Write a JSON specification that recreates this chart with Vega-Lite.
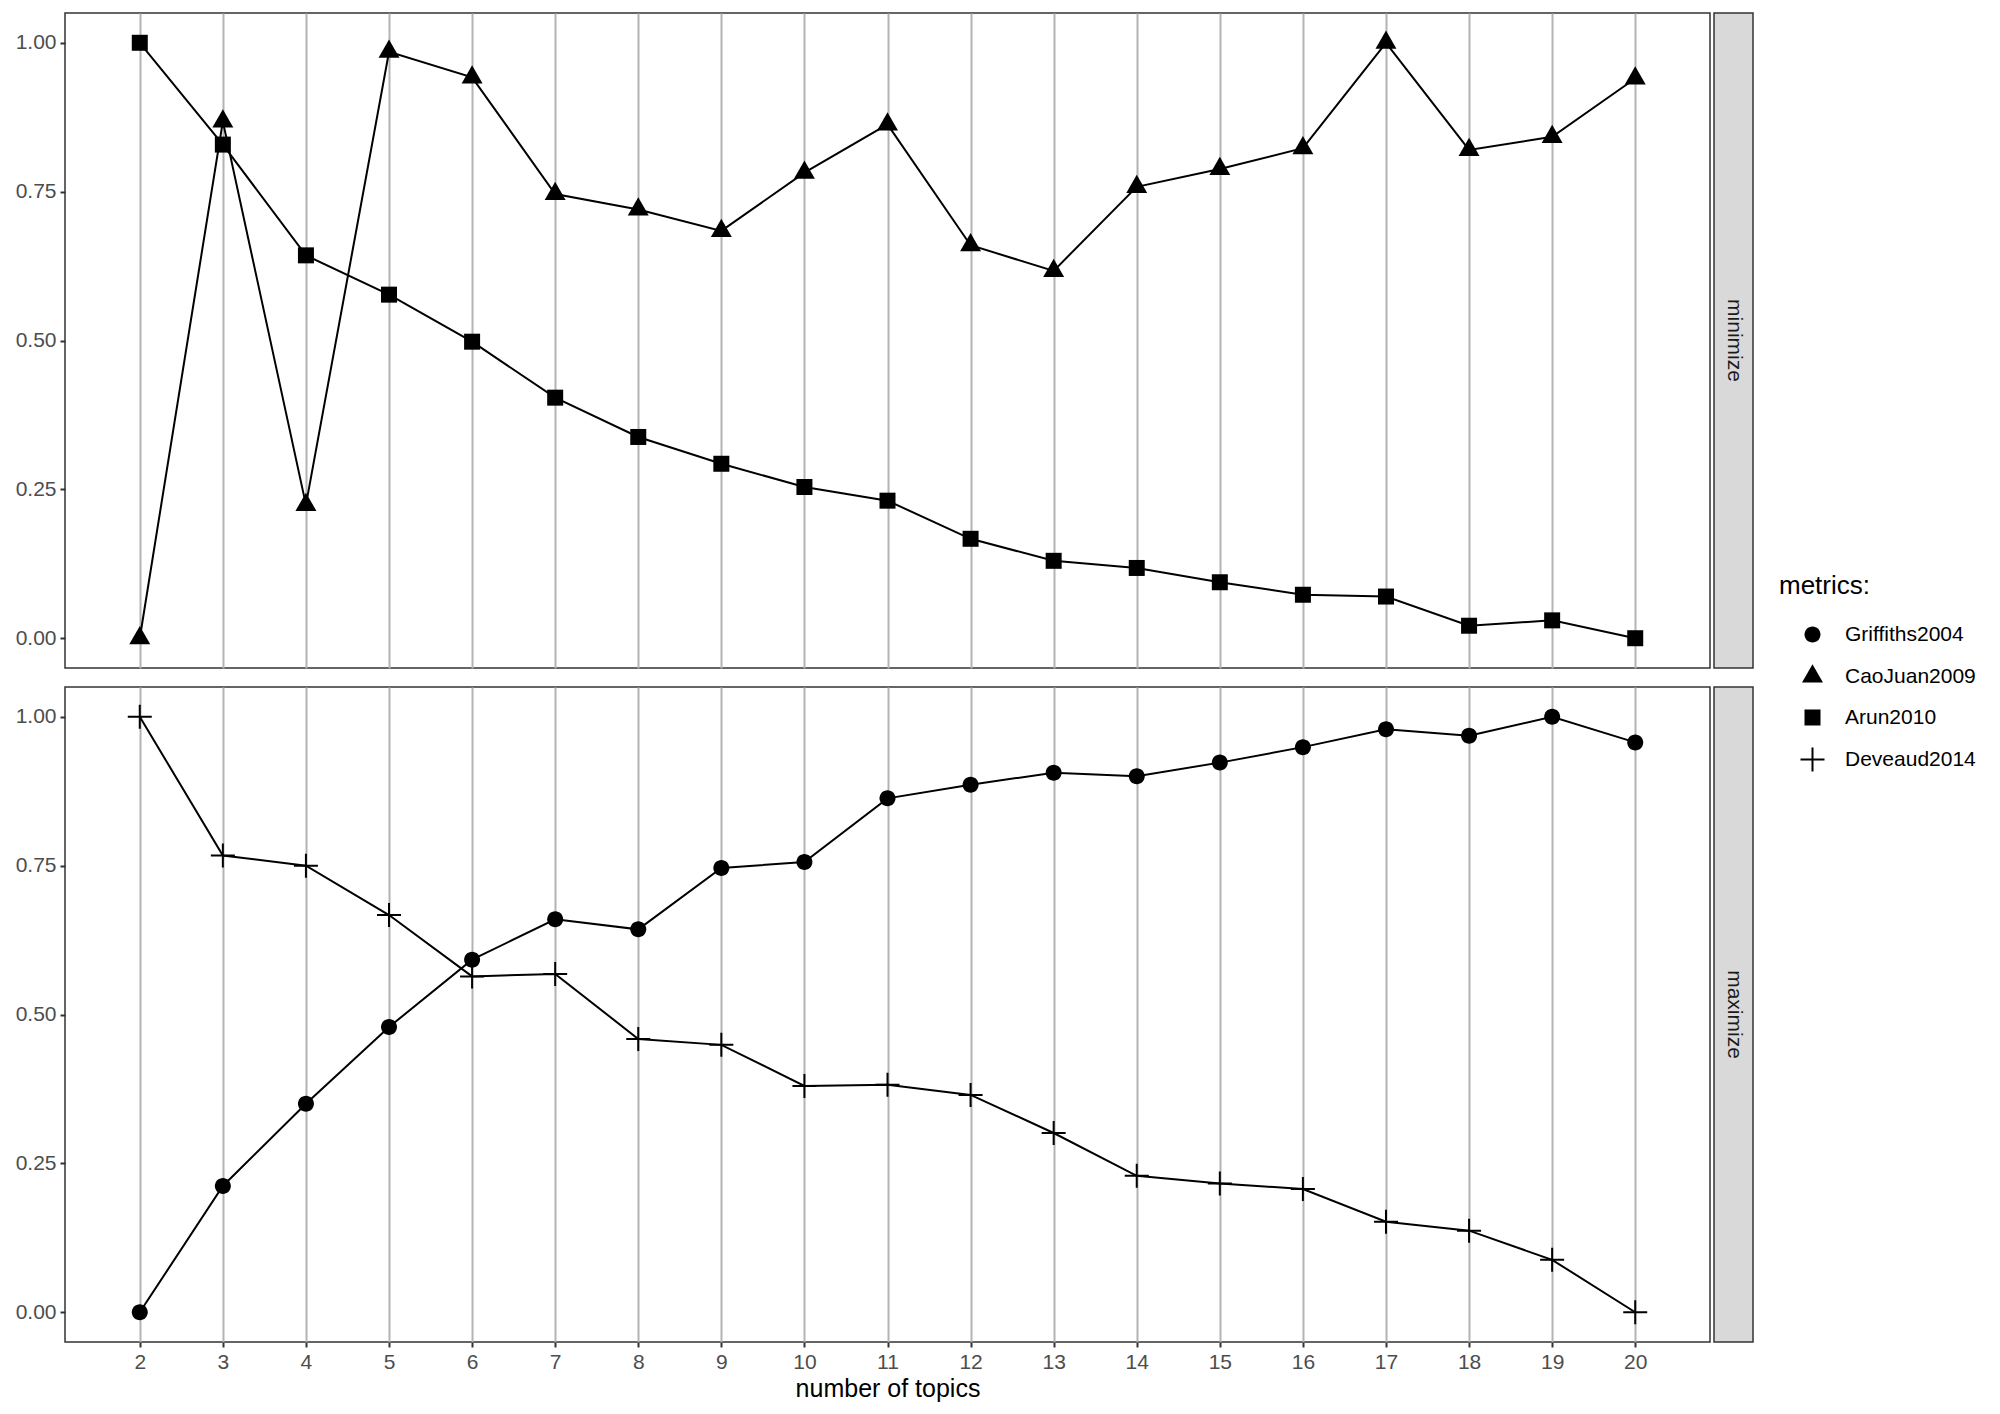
{
  "$schema": "https://vega.github.io/schema/vega-lite/v6.json",
  "background": "white",
  "padding": {"left": 14, "top": 12, "right": 0, "bottom": 0},
  "config": {
    "font": "Liberation Sans",
    "view": {"stroke": "#333333", "strokeWidth": 1.5},
    "axis": {
      "labelFont": "Liberation Sans",
      "labelFontSize": 21,
      "labelColor": "#4d4d4d",
      "tickColor": "#333333",
      "tickSize": 5,
      "tickWidth": 2,
      "labelPadding": 4,
      "domain": false,
      "grid": false,
      "titleFont": "Liberation Sans",
      "titleFontSize": 25,
      "titleFontWeight": "normal",
      "titleColor": "black"
    }
  },
  "datasets": {
    "d": [
      {"topics": 2, "value": 0.0, "metric": "CaoJuan2009", "direction": "minimize"},
      {"topics": 3, "value": 0.868, "metric": "CaoJuan2009", "direction": "minimize"},
      {"topics": 4, "value": 0.224, "metric": "CaoJuan2009", "direction": "minimize"},
      {"topics": 5, "value": 0.985, "metric": "CaoJuan2009", "direction": "minimize"},
      {"topics": 6, "value": 0.942, "metric": "CaoJuan2009", "direction": "minimize"},
      {"topics": 7, "value": 0.746, "metric": "CaoJuan2009", "direction": "minimize"},
      {"topics": 8, "value": 0.720, "metric": "CaoJuan2009", "direction": "minimize"},
      {"topics": 9, "value": 0.684, "metric": "CaoJuan2009", "direction": "minimize"},
      {"topics": 10, "value": 0.782, "metric": "CaoJuan2009", "direction": "minimize"},
      {"topics": 11, "value": 0.863, "metric": "CaoJuan2009", "direction": "minimize"},
      {"topics": 12, "value": 0.660, "metric": "CaoJuan2009", "direction": "minimize"},
      {"topics": 13, "value": 0.617, "metric": "CaoJuan2009", "direction": "minimize"},
      {"topics": 14, "value": 0.758, "metric": "CaoJuan2009", "direction": "minimize"},
      {"topics": 15, "value": 0.788, "metric": "CaoJuan2009", "direction": "minimize"},
      {"topics": 16, "value": 0.823, "metric": "CaoJuan2009", "direction": "minimize"},
      {"topics": 17, "value": 1.0, "metric": "CaoJuan2009", "direction": "minimize"},
      {"topics": 18, "value": 0.820, "metric": "CaoJuan2009", "direction": "minimize"},
      {"topics": 19, "value": 0.842, "metric": "CaoJuan2009", "direction": "minimize"},
      {"topics": 20, "value": 0.940, "metric": "CaoJuan2009", "direction": "minimize"},
      {"topics": 2, "value": 1.0, "metric": "Arun2010", "direction": "minimize"},
      {"topics": 3, "value": 0.829, "metric": "Arun2010", "direction": "minimize"},
      {"topics": 4, "value": 0.643, "metric": "Arun2010", "direction": "minimize"},
      {"topics": 5, "value": 0.577, "metric": "Arun2010", "direction": "minimize"},
      {"topics": 6, "value": 0.498, "metric": "Arun2010", "direction": "minimize"},
      {"topics": 7, "value": 0.404, "metric": "Arun2010", "direction": "minimize"},
      {"topics": 8, "value": 0.338, "metric": "Arun2010", "direction": "minimize"},
      {"topics": 9, "value": 0.293, "metric": "Arun2010", "direction": "minimize"},
      {"topics": 10, "value": 0.254, "metric": "Arun2010", "direction": "minimize"},
      {"topics": 11, "value": 0.231, "metric": "Arun2010", "direction": "minimize"},
      {"topics": 12, "value": 0.167, "metric": "Arun2010", "direction": "minimize"},
      {"topics": 13, "value": 0.130, "metric": "Arun2010", "direction": "minimize"},
      {"topics": 14, "value": 0.118, "metric": "Arun2010", "direction": "minimize"},
      {"topics": 15, "value": 0.094, "metric": "Arun2010", "direction": "minimize"},
      {"topics": 16, "value": 0.073, "metric": "Arun2010", "direction": "minimize"},
      {"topics": 17, "value": 0.070, "metric": "Arun2010", "direction": "minimize"},
      {"topics": 18, "value": 0.021, "metric": "Arun2010", "direction": "minimize"},
      {"topics": 19, "value": 0.030, "metric": "Arun2010", "direction": "minimize"},
      {"topics": 20, "value": 0.0, "metric": "Arun2010", "direction": "minimize"},
      {"topics": 2, "value": 0.0, "metric": "Griffiths2004", "direction": "maximize"},
      {"topics": 3, "value": 0.212, "metric": "Griffiths2004", "direction": "maximize"},
      {"topics": 4, "value": 0.350, "metric": "Griffiths2004", "direction": "maximize"},
      {"topics": 5, "value": 0.479, "metric": "Griffiths2004", "direction": "maximize"},
      {"topics": 6, "value": 0.592, "metric": "Griffiths2004", "direction": "maximize"},
      {"topics": 7, "value": 0.660, "metric": "Griffiths2004", "direction": "maximize"},
      {"topics": 8, "value": 0.643, "metric": "Griffiths2004", "direction": "maximize"},
      {"topics": 9, "value": 0.746, "metric": "Griffiths2004", "direction": "maximize"},
      {"topics": 10, "value": 0.756, "metric": "Griffiths2004", "direction": "maximize"},
      {"topics": 11, "value": 0.863, "metric": "Griffiths2004", "direction": "maximize"},
      {"topics": 12, "value": 0.886, "metric": "Griffiths2004", "direction": "maximize"},
      {"topics": 13, "value": 0.906, "metric": "Griffiths2004", "direction": "maximize"},
      {"topics": 14, "value": 0.900, "metric": "Griffiths2004", "direction": "maximize"},
      {"topics": 15, "value": 0.923, "metric": "Griffiths2004", "direction": "maximize"},
      {"topics": 16, "value": 0.949, "metric": "Griffiths2004", "direction": "maximize"},
      {"topics": 17, "value": 0.979, "metric": "Griffiths2004", "direction": "maximize"},
      {"topics": 18, "value": 0.968, "metric": "Griffiths2004", "direction": "maximize"},
      {"topics": 19, "value": 1.0, "metric": "Griffiths2004", "direction": "maximize"},
      {"topics": 20, "value": 0.957, "metric": "Griffiths2004", "direction": "maximize"},
      {"topics": 2, "value": 1.0, "metric": "Deveaud2014", "direction": "maximize"},
      {"topics": 3, "value": 0.767, "metric": "Deveaud2014", "direction": "maximize"},
      {"topics": 4, "value": 0.750, "metric": "Deveaud2014", "direction": "maximize"},
      {"topics": 5, "value": 0.667, "metric": "Deveaud2014", "direction": "maximize"},
      {"topics": 6, "value": 0.564, "metric": "Deveaud2014", "direction": "maximize"},
      {"topics": 7, "value": 0.568, "metric": "Deveaud2014", "direction": "maximize"},
      {"topics": 8, "value": 0.459, "metric": "Deveaud2014", "direction": "maximize"},
      {"topics": 9, "value": 0.449, "metric": "Deveaud2014", "direction": "maximize"},
      {"topics": 10, "value": 0.380, "metric": "Deveaud2014", "direction": "maximize"},
      {"topics": 11, "value": 0.382, "metric": "Deveaud2014", "direction": "maximize"},
      {"topics": 12, "value": 0.365, "metric": "Deveaud2014", "direction": "maximize"},
      {"topics": 13, "value": 0.301, "metric": "Deveaud2014", "direction": "maximize"},
      {"topics": 14, "value": 0.229, "metric": "Deveaud2014", "direction": "maximize"},
      {"topics": 15, "value": 0.216, "metric": "Deveaud2014", "direction": "maximize"},
      {"topics": 16, "value": 0.207, "metric": "Deveaud2014", "direction": "maximize"},
      {"topics": 17, "value": 0.152, "metric": "Deveaud2014", "direction": "maximize"},
      {"topics": 18, "value": 0.137, "metric": "Deveaud2014", "direction": "maximize"},
      {"topics": 19, "value": 0.088, "metric": "Deveaud2014", "direction": "maximize"},
      {"topics": 20, "value": 0.0, "metric": "Deveaud2014", "direction": "maximize"}
    ]
  },
  "resolve": {"scale": {"shape": "shared"}, "legend": {"shape": "shared"}},
  "spacing": 17,
  "vconcat": [
    {
      "spacing": 2,
      "hconcat": [
        {
          "width": 1645,
          "height": 655,
          "data": {"name": "d"},
          "transform": [{"filter": "datum.direction === 'minimize'"}],
          "encoding": {
            "x": {"field": "topics", "type": "quantitative", "scale": {"domain": [1.1, 20.9], "nice": false, "zero": false},
                  "axis": {"values": [2,3,4,5,6,7,8,9,10,11,12,13,14,15,16,17,18,19,20], "labels": false, "ticks": false, "title": null, "grid": true, "gridColor": "#b3b3b3", "gridWidth": 2}},
            "y": {"field": "value", "type": "quantitative", "scale": {"domain": [-0.05, 1.05], "nice": false, "zero": false},
                  "axis": {"values": [0, 0.25, 0.5, 0.75, 1], "format": ".2f", "title": null}}
          },
          "layer": [
            {"mark": {"type": "line", "color": "black", "strokeWidth": 2}, "encoding": {"detail": {"field": "metric"}}},
            {"mark": {"type": "point", "filled": true, "color": "black", "opacity": 1, "size": 256},
             "encoding": {"shape": {"field": "metric", "type": "nominal",
               "scale": {"domain": ["Griffiths2004", "CaoJuan2009", "Arun2010", "Deveaud2014"], "range": ["M-1,0A1,1 0 1,0 1,0A1,1 0 1,0 -1,0Z", "M0,-1.52L1.31,0.76L-1.31,0.76Z", "M-1,-1L1,-1L1,1L-1,1Z", "M-1.5,-0.125L-0.125,-0.125L-0.125,-1.5L0.125,-1.5L0.125,-0.125L1.5,-0.125L1.5,0.125L0.125,0.125L0.125,1.5L-0.125,1.5L-0.125,0.125L-1.5,0.125Z"]},
               "legend": {"title": "metrics:", "orient": "none", "legendX": 1714, "legendY": 560, "titleFontSize": 26, "titleFontWeight": "normal", "titleColor": "black", "titlePadding": 25, "labelFontSize": 21, "labelColor": "black", "rowPadding": 19, "symbolSize": 256, "symbolFillColor": "black", "symbolStrokeWidth": 0, "symbolOffset": 23, "labelOffset": 22}}}}
          ]
        },
        {
          "width": 39,
          "height": 655,
          "view": {"fill": "#d9d9d9", "stroke": "#333333", "strokeWidth": 1.5},
          "data": {"values": [{"label": "minimize"}]},
          "mark": {"type": "text", "angle": 90, "fontSize": 21, "color": "#1a1a1a", "font": "Liberation Sans"},
          "encoding": {"text": {"field": "label"}}
        }
      ]
    },
    {
      "spacing": 2,
      "hconcat": [
        {
          "width": 1645,
          "height": 655,
          "data": {"name": "d"},
          "transform": [{"filter": "datum.direction === 'maximize'"}],
          "encoding": {
            "x": {"field": "topics", "type": "quantitative", "scale": {"domain": [1.1, 20.9], "nice": false, "zero": false},
                  "axis": {"values": [2,3,4,5,6,7,8,9,10,11,12,13,14,15,16,17,18,19,20], "title": "number of topics", "titlePadding": 4, "grid": true, "gridColor": "#b3b3b3", "gridWidth": 2}},
            "y": {"field": "value", "type": "quantitative", "scale": {"domain": [-0.05, 1.05], "nice": false, "zero": false},
                  "axis": {"values": [0, 0.25, 0.5, 0.75, 1], "format": ".2f", "title": null}}
          },
          "layer": [
            {"mark": {"type": "line", "color": "black", "strokeWidth": 2}, "encoding": {"detail": {"field": "metric"}}},
            {"mark": {"type": "point", "filled": true, "color": "black", "opacity": 1, "size": 256},
             "encoding": {"shape": {"field": "metric", "type": "nominal",
               "scale": {"domain": ["Griffiths2004", "CaoJuan2009", "Arun2010", "Deveaud2014"], "range": ["M-1,0A1,1 0 1,0 1,0A1,1 0 1,0 -1,0Z", "M0,-1.52L1.31,0.76L-1.31,0.76Z", "M-1,-1L1,-1L1,1L-1,1Z", "M-1.5,-0.125L-0.125,-0.125L-0.125,-1.5L0.125,-1.5L0.125,-0.125L1.5,-0.125L1.5,0.125L0.125,0.125L0.125,1.5L-0.125,1.5L-0.125,0.125L-1.5,0.125Z"]},
               "legend": {"title": "metrics:", "orient": "none", "legendX": 1714, "legendY": 560, "titleFontSize": 26, "titleFontWeight": "normal", "titleColor": "black", "titlePadding": 25, "labelFontSize": 21, "labelColor": "black", "rowPadding": 19, "symbolSize": 256, "symbolFillColor": "black", "symbolStrokeWidth": 0, "symbolOffset": 23, "labelOffset": 22}}}}
          ]
        },
        {
          "width": 39,
          "height": 655,
          "view": {"fill": "#d9d9d9", "stroke": "#333333", "strokeWidth": 1.5},
          "data": {"values": [{"label": "maximize"}]},
          "mark": {"type": "text", "angle": 90, "fontSize": 21, "color": "#1a1a1a", "font": "Liberation Sans"},
          "encoding": {"text": {"field": "label"}}
        }
      ]
    }
  ]
}
